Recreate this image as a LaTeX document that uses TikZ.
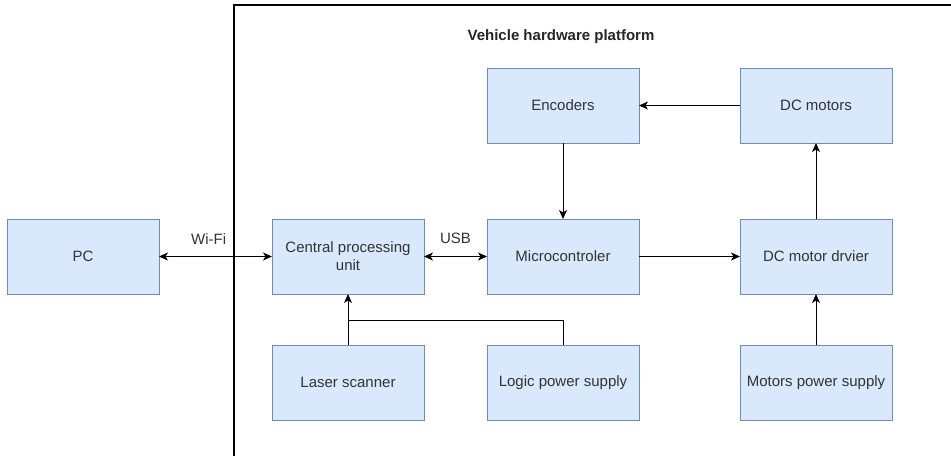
\documentclass[tikz,border=0pt]{standalone}
\usepackage{fontspec}
\setmainfont{Liberation Sans}
\usetikzlibrary{arrows.meta,positioning}
\definecolor{block_fill}{HTML}{DAE8FC}
\definecolor{block_line}{HTML}{6C8EBF}
\definecolor{label_gray}{HTML}{333333}

\begin{document}
\begin{tikzpicture}[
    x=1pt, y=-1pt,
    font=\fontsize{15}{18}\selectfont,
    >={Stealth[length=9pt,width=8pt,inset=2.5pt]},
    node distance=76pt and 101pt,
    % Styles
    block/.style={
        rectangle, draw=block_line, fill=block_fill, line width=1pt, text=label_gray,
        minimum width=152pt, minimum height=75pt, inner sep=2pt, outer sep=0pt, align=center
    },
    link/.style={->, line width=1pt},
    link_label/.style={text=label_gray, inner sep=0pt}
]
\useasboundingbox (0,0) rectangle (951,456);

% Platform frame
\draw[line width=1.5pt] (234,456) -- (234,5) -- (951,5);
\node[font=\fontsize{15}{18}\selectfont\bfseries, text=black!85] (platform) at (561,37) {Vehicle hardware platform};

% 1. Middle row
\node[block] (pc) at (83,256.5) {PC};
\node[block, right=113pt of pc] (cpu) {Central processing\\unit};
\node[block, right=63pt of cpu] (micro) {Microcontroler};
\node[block, right=101pt of micro] (driver) {DC motor drvier};

% 2. Top row
\node[block, above=76pt of micro] (encoders) {Encoders};
\node[block, above=76pt of driver] (motors) {DC motors};

% 3. Bottom row
\node[block, below=51pt of cpu] (laser) {Laser scanner};
\node[block, below=51pt of micro] (logic) {Logic power supply};
\node[block, below=51pt of driver] (supply) {Motors power supply};

% --- Connections ---
\draw[link, <->] (pc) -- node[link_label, above=12pt, pos=0.44] {Wi-Fi} (cpu);
\draw[link, <->] (cpu) -- node[link_label, above=12pt] {USB} (micro);
\draw[link] (micro) -- (driver);
\draw[link] (encoders) -- (micro);
\draw[link] (motors) -- (encoders);
\draw[link] (driver) -- (motors);
\draw[link] (supply) -- (driver);

% Sensor and logic supply into the CPU
\coordinate (tap) at (0,320);
\draw[link] (laser) -- (cpu);
\draw[line width=1pt] (logic.north) |- (laser.north |- tap);

\end{tikzpicture}
\end{document}
